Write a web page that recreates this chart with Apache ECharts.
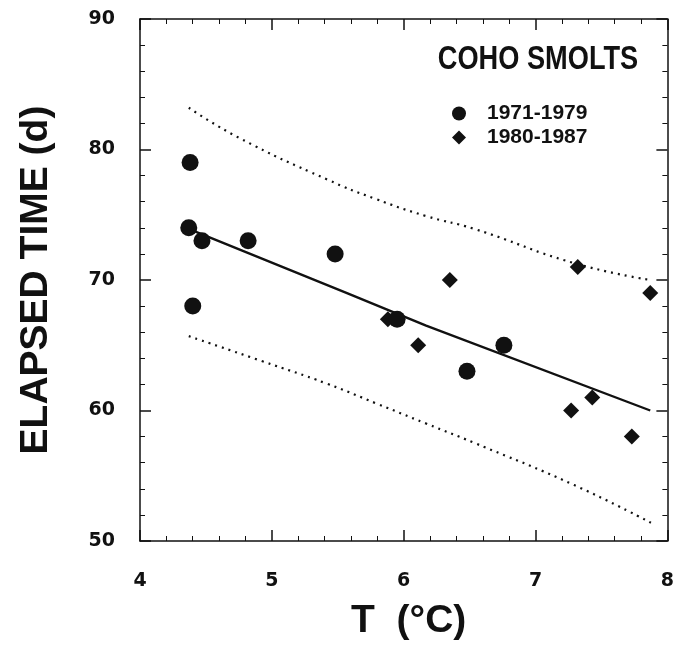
<!DOCTYPE html>
<html>
<head>
<meta charset="utf-8">
<script src="https://cdn.jsdelivr.net/npm/echarts@6/dist/echarts.min.js"></script>
<style>
html,body{margin:0;padding:0;background:#fff;}
#c{width:677px;height:646px;}
</style>
</head>
<body>
<div id="c"></div>
<script>
// Data
const circleX = [4.38, 4.37, 4.40, 4.47, 4.82, 5.48, 5.95, 6.48, 6.76];
const circleY = [79, 74, 68, 73, 73, 72, 67, 63, 65];
const diamondX = [5.88, 6.11, 6.35, 7.27, 7.32, 7.43, 7.73, 7.87];
const diamondY = [67, 65, 70, 60, 71, 61, 58, 69];
const fitX = [4.42, 5.57, 6.17, 7.87];
const fitY = [73.7, 69.0, 66.5, 60.0];
const upperX = [4.37, 4.75, 5.42, 5.79, 6.17, 6.54, 7.29, 7.87];
const upperY = [83.2, 80.9, 77.7, 76.2, 74.9, 73.9, 71.3, 70.0];
const lowerX = [4.37, 4.92, 5.42, 5.79, 6.17, 6.54, 7.29, 7.875];
const lowerY = [65.7, 63.8, 62.05, 60.55, 59.0, 57.5, 54.3, 51.4];
const xTicks = [4, 5, 6, 7, 8];
const yTicks = [50, 60, 70, 80, 90];
const legendNames = ['1971-1979', '1980-1987'];
const titleText = 'COHO SMOLTS';
const xTitle = 'T  (°C)';
const yTitle = 'ELAPSED TIME (d)';

const zip = (a, b) => a.map((v, i) => [v, b[i]]);
const ink = '#111';
const font = '"Liberation Sans", Arial, sans-serif';

const tickCommon = {
  axisLine: {show: true, lineStyle: {color: ink, width: 1.5}},
  axisTick: {show: true, inside: true, length: 11, lineStyle: {color: ink, width: 1.5}},
  minorTick: {show: true, splitNumber: 5, length: 5, lineStyle: {color: ink, width: 1}},
  splitLine: {show: false},
  minorSplitLine: {show: false}
};

const chart = echarts.init(document.getElementById('c'), null, {renderer: 'canvas'});
chart.setOption({
  backgroundColor: '#fff',
  animation: false,
  grid: {left: 140, top: 19, right: 2, bottom: 96, containLabel: false},
  xAxis: [
    Object.assign({
      type: 'value', min: xTicks[0], max: xTicks[xTicks.length - 1], interval: 1,
      position: 'bottom',
      axisLabel: {show: true, color: ink, fontFamily: 'DejaVu Sans', fontWeight: 'bold', fontSize: 19, margin: 31,
        formatter: v => xTicks.includes(v) ? String(v) : ''},
      name: xTitle, nameLocation: 'middle', nameGap: 61,
      nameTextStyle: {color: ink, fontFamily: font, fontWeight: 'bold', fontSize: 39, padding: [0, 0, 0, 10]}
    }, tickCommon),
    Object.assign({
      type: 'value', min: xTicks[0], max: xTicks[xTicks.length - 1], interval: 1,
      position: 'top', axisLabel: {show: false}
    }, tickCommon)
  ],
  yAxis: [
    Object.assign({
      type: 'value', min: yTicks[0], max: yTicks[yTicks.length - 1], interval: 10,
      position: 'left',
      axisLabel: {show: true, color: ink, fontFamily: 'DejaVu Sans', fontWeight: 'bold', fontSize: 19, margin: 25,
        formatter: v => yTicks.includes(v) ? String(v) : ''},
      name: yTitle, nameLocation: 'middle', nameGap: 84, nameRotate: 90,
      nameTextStyle: {color: ink, fontFamily: font, fontWeight: 'bold', fontSize: 39}
    }, tickCommon),
    Object.assign({
      type: 'value', min: yTicks[0], max: yTicks[yTicks.length - 1], interval: 10,
      position: 'right', axisLabel: {show: false}
    }, tickCommon)
  ],
  legend: {
    orient: 'vertical', left: 447, top: 98, itemWidth: 14, itemHeight: 14, itemGap: 3,
    data: [{name: legendNames[0], icon: 'circle'}, {name: legendNames[1], icon: 'diamond'}],
    textStyle: {color: ink, fontFamily: font, fontWeight: 'bold', fontSize: 21, padding: [0, 0, 0, 16]}
  },
  graphic: [{
    type: 'text', x: 538, y: 60, scaleX: 0.8, scaleY: 1,
    style: {text: titleText, x: 0, y: 0, align: 'center', verticalAlign: 'middle', fill: ink,
      font: 'bold 34px "Liberation Sans", Arial, sans-serif'}
  }],
  series: [
    {name: 'fit', type: 'line', data: zip(fitX, fitY), showSymbol: false, symbol: 'none',
      lineStyle: {color: ink, width: 2.4}, silent: true, z: 2},
    {name: 'upper', type: 'line', data: zip(upperX, upperY), smooth: true, symbol: 'none',
      lineStyle: {color: ink, width: 2.2, type: [2, 5]}, silent: true, z: 2},
    {name: 'lower', type: 'line', data: zip(lowerX, lowerY), smooth: true, symbol: 'none',
      lineStyle: {color: ink, width: 2.2, type: [2, 5]}, silent: true, z: 2},
    {name: legendNames[1], type: 'scatter', symbol: 'diamond', symbolSize: 16,
      data: zip(diamondX, diamondY), itemStyle: {color: ink, opacity: 1}, z: 3},
    {name: legendNames[0], type: 'scatter', symbol: 'circle', symbolSize: 17,
      data: zip(circleX, circleY), itemStyle: {color: ink, opacity: 1}, z: 4}
  ]
});
</script>
</body>
</html>
